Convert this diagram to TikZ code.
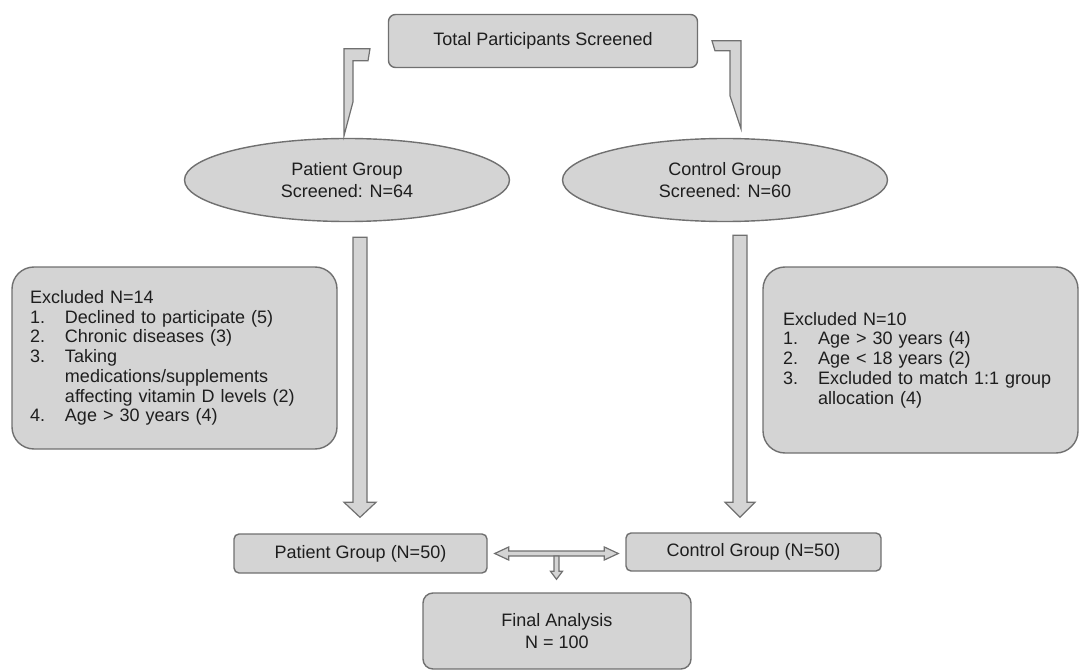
\documentclass[tikz,border=0pt]{standalone}
\usepackage{fontspec}
\setmainfont{Liberation Sans}
\usetikzlibrary{shapes.geometric,calc}

\definecolor{boxgray}{HTML}{D4D4D4}
\definecolor{edgegray}{HTML}{707070}
\definecolor{inkgray}{HTML}{1E1E1E}

\newcommand{\itm}[1]{\makebox[35pt][l]{#1}}
% block arrow pointing down: top, tip, shaft half width, head half width, head length
\newcommand{\downblock}[5]{%
  \draw [blk] let \p1 = (#1), \p2 = (#2) in
    (\x1-#3,\y1) -- (\x1+#3,\y1) -- (\x1+#3,\y2+#5) -- (\x1+#4,\y2+#5)
    -- (\x1,\y2) -- (\x1-#4,\y2+#5) -- (\x1-#3,\y2+#5) -- cycle;}
% block arrow with two heads: left tip, right tip, shaft half, head half, head length
\newcommand{\bothblock}[5]{%
  \draw [blk] let \p1 = (#1), \p2 = (#2) in
    (\x1,\y1) -- (\x1+#5,\y1+#4) -- (\x1+#5,\y1+#3) -- (\x2-#5,\y1+#3)
    -- (\x2-#5,\y1+#4) -- (\x2,\y1) -- (\x2-#5,\y1-#4) -- (\x2-#5,\y1-#3)
    -- (\x1+#5,\y1-#3) -- (\x1+#5,\y1-#4) -- cycle;}

\begin{document}
\begin{tikzpicture}[x = 1pt, y = -1pt, line width = 1.4pt,
    box/.style = {draw = edgegray, fill = boxgray, rounded corners = 7pt, text = inkgray,
                  font = \fontsize{18}{22}\selectfont, align = center, inner sep = 0pt},
    oval/.style = {ellipse, draw = edgegray, fill = boxgray, text = inkgray,
                   font = \fontsize{18}{22}\selectfont, align = center, inner sep = 0pt,
                   minimum width = 325pt, minimum height = 83pt},
    excl/.style = {draw = edgegray, fill = boxgray, rounded corners = 22pt, text = inkgray,
                   font = \fontsize{18}{19.7}\selectfont, align = left, inner ysep = 0pt},
    blk/.style = {draw = edgegray, fill = boxgray, line width = 1.2pt}]
  \useasboundingbox (0,0) rectangle (1079,671);

  \node [box, minimum width = 309pt, minimum height = 53pt] (total) at (543,41)
    {Total Participants Screened};
  \node [oval] (patient) at (347,180) {Patient Group\\Screened: N=64};
  \node [oval] (control) at (725,180) {Control Group\\Screened: N=60};

  \node [excl, text width = 289pt, inner xsep = 18pt, minimum height = 182pt] (exclpat) at (174.5,358)
    {Excluded N=14\\
     \itm{1.}Declined to participate (5)\\
     \itm{2.}Chronic diseases (3)\\
     \itm{3.}Taking\\
     \itm{}medications/supplements\\
     \itm{}affecting vitamin D levels (2)\\
     \itm{4.}Age > 30 years (4)};
  \node [excl, text width = 275pt, inner xsep = 20pt, minimum height = 186pt] (exclcon) at (920.5,360)
    {Excluded N=10\\
     \itm{1.}Age > 30 years (4)\\
     \itm{2.}Age < 18 years (2)\\
     \itm{3.}Excluded to match 1:1 group\\
     \itm{}allocation (4)};

  \node [box, rounded corners = 5pt, minimum width = 253pt, minimum height = 39pt] (pat50) at (360.5,553.5)
    {Patient Group (N=50)};
  \node [box, rounded corners = 5pt, minimum width = 255pt, minimum height = 38pt] (con50) at (753.5,552)
    {Control Group (N=50)};
  \node [box, rounded corners = 10pt, minimum width = 268pt, minimum height = 76pt] (final) at (557,631)
    {Final Analysis\\N = 100};

  % bent arrows from the top box
  \draw [blk] ($(patient.north)+(-3,-2)$) -- ++(0,-87) -- ++(26,0) -- ++(-2,12)
    -- ++(-15,0) -- ++(0,41) -- cycle;
  \draw [blk] ($(control.north)+(16,-9)$) -- ++(0,-88) -- ++(-29,0) -- ++(3,10)
    -- ++(15,0) -- ++(0,45) -- cycle;

  % long arrows down
  \downblock{$(patient.south)+(13,15)$}{$(pat50.north)+(0,-16)$}{7pt}{16pt}{15pt}
  \downblock{$(control.south)+(15,13)$}{$(con50.north)+(0,-15)$}{7pt}{15pt}{15pt}

  % both groups into the analysis
  \coordinate (mid) at ($(pat50.east)!0.5!(con50.west)$);
  \bothblock{$(pat50.east)+(7,0)$}{$(con50.west)+(-7,0)$}{2.5pt}{6.5pt}{14pt}
  \downblock{$(mid)+(0,3.2)$}{$(final.north)+(0,-13)$}{2.5pt}{6pt}{8pt}
\end{tikzpicture}
\end{document}
